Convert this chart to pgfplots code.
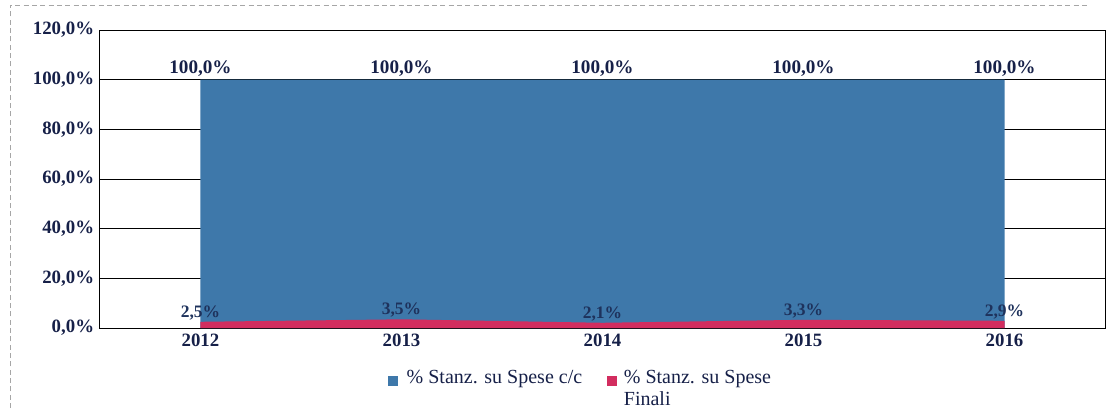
\documentclass[border=0pt]{standalone}
\usepackage{pgfplots}
\pgfplotsset{compat=1.18}
\usetikzlibrary{calc}
\usepackage{fontspec}
\setmainfont{Liberation Serif}

\definecolor{areablue}{RGB}{62,120,170}
\definecolor{areared}{RGB}{210,45,95}
\definecolor{txt}{RGB}{22,32,72}

\begin{document}
\begin{tikzpicture}[x=1pt,y=1pt]
\begin{axis}[
    name=ax,
    at={(0,0)}, anchor=south west,
    scale only axis,
    width=603pt, height=178.8pt,
    xmin=2011.5, xmax=2016.5,
    ymin=0, ymax=120,
    xtick={2012,2013,2014,2015,2016},
    xticklabel style={/pgf/number format/1000 sep=},
    ytick={0,20,40,60,80,100,120},
    yticklabel={\pgfmathprintnumber[fixed,fixed zerofill,precision=1,use comma]{\tick}\%},
    /pgf/number format/assume math mode=true,
    ticklabel style={font=\bfseries\fontsize{11.3}{12}\selectfont, text=txt},
    major tick length=0pt,
    ymajorgrids=true,
    grid style={black, line width=0.6pt},
    axis line style={black, line width=0.6pt},
    legend style={
        at={(0.479,-0.117)}, anchor=north,
        draw=none, fill=none,
        font=\fontsize{12}{13.5}\selectfont,
        text=txt,
        legend columns=2,
        /tikz/every even column/.append style={column sep=13pt},
        cells={anchor=base west},
    },
    legend image code/.code={\fill[#1] (0pt,-1.8pt) rectangle (6pt,4.2pt);},
    nodes near coords style={font=\bfseries\fontsize{11.5}{12}\selectfont, text=txt, yshift=-1.5pt},
]
\addplot[fill=areablue, draw=none,
    nodes near coords={\pgfmathprintnumber[fixed,fixed zerofill,precision=1,use comma]{\pgfplotspointmeta}\%},
    nodes near coords align={above}]
    coordinates {(2012,100) (2013,100) (2014,100) (2015,100) (2016,100)} \closedcycle;
\addlegendentry{\kern3pt\% Stanz. su Spese c/c}
\addplot[fill=areared, draw=none,
    nodes near coords={\pgfmathprintnumber[fixed,fixed zerofill,precision=1,use comma]{\pgfplotspointmeta}\%},
    nodes near coords style={font=\bfseries\fontsize{10.5}{12}\selectfont, text=txt!80!areablue, yshift=-1pt},
    nodes near coords align={above}]
    coordinates {(2012,2.5) (2013,3.5) (2014,2.1) (2015,3.3) (2016,2.9)} \closedcycle;
\addlegendentry{\kern2pt\vtop{\hbox{\% Stanz. su Spese}\hbox{Finali}}}
\end{axis}
% page frame of the scanned figure
\path[use as bounding box] ($(ax.south west)+(-60pt,-50.4pt)$) rectangle ($(ax.north east)+(1.2pt,18pt)$);
\draw[gray!70, densely dashed, line width=0.4pt] ($(ax.south west)+(-54pt,-48pt)$) -- ($(ax.north west)+(-54pt,15pt)$) -- ($(ax.north east)+(-10pt,15pt)$);
\end{tikzpicture}
\end{document}
